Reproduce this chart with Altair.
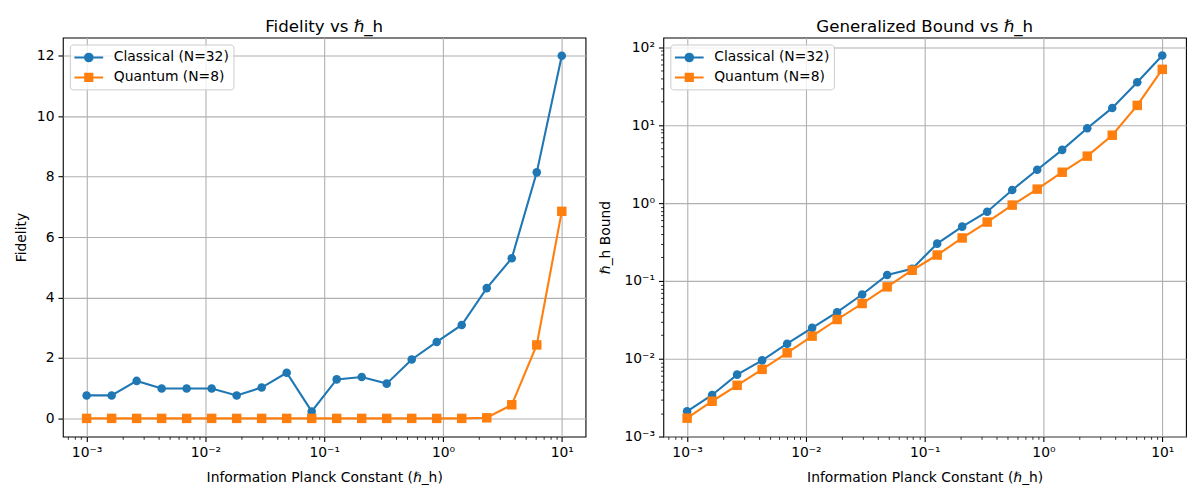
import altair as alt
import pandas as pd

SERIES = ["Classical (N=32)", "Quantum (N=8)"]
COLORS = ["#1f77b4", "#ff7f0e"]

# information planck constant (x), log spaced
h_vals = [0.001, 0.001624, 0.002637, 0.004281, 0.006952, 0.01129, 0.01833, 0.02976, 0.04833, 0.07848,
          0.1274, 0.2069, 0.3360, 0.5456, 0.8859, 1.438, 2.336, 3.793, 6.158, 10.0]

fid_classical = [0.76, 0.76, 1.24, 0.99, 0.99, 0.99, 0.76, 1.02, 1.51, 0.23,
                 1.29, 1.37, 1.15, 1.95, 2.53, 3.09, 4.31, 5.30, 8.14, 12.0]
fid_quantum = [0.0, 0.0, 0.0, 0.0, 0.0, 0.0, 0.0, 0.0, 0.0, 0.0,
               0.0, 0.0, 0.0, 0.0, 0.0, 0.0, 0.02, 0.45, 2.43, 6.85]

bound_classical = [0.00211, 0.00342, 0.00624, 0.00952, 0.0156, 0.0249, 0.0396, 0.0668, 0.119, 0.143,
                   0.301, 0.498, 0.775, 1.47, 2.68, 4.83, 9.16, 16.7, 35.6, 78.9]
bound_quantum = [0.00172, 0.00284, 0.00455, 0.00730, 0.0119, 0.0195, 0.0319, 0.0512, 0.0838, 0.137,
                 0.215, 0.356, 0.570, 0.942, 1.51, 2.49, 4.01, 7.45, 18.0, 52.3]

# tick positions / labels
log_majors = [0.001, 0.01, 0.1, 1.0, 10.0, 100.0]
log_labels = ["10\u207b\u00b3", "10\u207b\u00b2", "10\u207b\u00b9", "10\u2070", "10\u00b9", "10\u00b2"]
x_minors = [m * 10.0 ** e for e in range(-4, 2) for m in range(2, 10)]
x_minors = [v for v in x_minors if 10 ** -3.2 <= v <= 10 ** 1.2]
y_minors = [m * 10.0 ** e for e in range(-3, 3) for m in range(2, 10)]
y_minors = [v for v in y_minors if v <= 134]
fid_ticks = [0, 2, 4, 6, 8, 10, 12]

FONT = "DejaVu Sans"
FS = 13.9

rows = []
for i, h in enumerate(h_vals):
    rows.append({"h": h, "series": SERIES[0], "fid": fid_classical[i], "bound": bound_classical[i]})
    rows.append({"h": h, "series": SERIES[1], "fid": fid_quantum[i], "bound": bound_quantum[i]})
df = pd.DataFrame(rows)

major_test = " || ".join("datum.value == %r" % v for v in log_majors)
label_expr = "".join("datum.value == %r ? '%s' : " % (v, t) for v, t in zip(log_majors, log_labels)) + "''"

# legend handles: line through marker, like matplotlib
LEG_PATHS = [
    "M-1.8,0H1.8M0.48,0A0.48,0.48,0,1,1,-0.48,0A0.48,0.48,0,1,1,0.48,0Z",
    "M-1.8,0H1.8M-0.45,-0.45H0.45V0.45H-0.45Z",
]


def log_axis(minors, title_pad=None):
    kw = dict(
        values=sorted(log_majors + minors),
        labelExpr=label_expr,
        tickSize={"condition": {"test": major_test, "value": 4.9}, "value": 2.8},
        tickWidth={"condition": {"test": major_test, "value": 1.1}, "value": 0.8},
        gridOpacity={"condition": {"test": major_test, "value": 1}, "value": 0},
    )
    if title_pad is not None:
        kw["titlePadding"] = title_pad
    return alt.Axis(**kw)


def legend():
    return alt.Legend(
        orient="top-left", title=None, offset=7,
        labelFont=FONT, labelFontSize=FS, labelColor="black",
        symbolSize=256, symbolStrokeWidth=2, symbolOffset=6, labelOffset=16,
        padding=4, rowPadding=3,
        fillColor="rgba(255,255,255,0.8)", strokeColor="#cccccc", cornerRadius=3,
    )


def panel(ycol, title, ytitle, y_scale, y_axis):
    base = alt.Chart(df)
    x = alt.X("h:Q", title="Information Planck Constant (\u210f_h)",
              scale=alt.Scale(type="log", domain=[10 ** -3.2, 10 ** 1.2], nice=False),
              axis=log_axis(x_minors, title_pad=11))
    y = alt.Y(ycol + ":Q", title=ytitle, scale=y_scale, axis=y_axis)

    layers = []
    for name, c, shape, size in [(SERIES[0], COLORS[0], "circle", 74), (SERIES[1], COLORS[1], "square", 90)]:
        sub = base.transform_filter(alt.datum.series == name)
        layers.append(sub.mark_line(strokeWidth=2.1, color=c).encode(x=x, y=y))
        layers.append(sub.mark_point(filled=True, shape=shape, size=size, opacity=1, color=c).encode(x=x, y=y))

    # legend only layer (no rows survive the filter)
    legend_layer = base.transform_filter("false").mark_point(filled=True, opacity=1, strokeWidth=2).encode(
        x=x, y=y,
        fill=alt.Fill("series:N", scale=alt.Scale(domain=SERIES, range=COLORS), legend=legend()),
        stroke=alt.Stroke("series:N", scale=alt.Scale(domain=SERIES, range=COLORS), legend=legend()),
        shape=alt.Shape("series:N", scale=alt.Scale(domain=SERIES, range=LEG_PATHS), legend=legend()),
    )
    layers.append(legend_layer)

    return alt.layer(*layers).properties(
        width=524, height=400,
        title=alt.TitleParams(title, fontSize=16.7, fontWeight="normal", font=FONT, offset=2, color="black"),
    )


left = panel(
    "fid", "Fidelity vs \u210f_h", "Fidelity",
    alt.Scale(domain=[-0.6, 12.6], nice=False, zero=False),
    alt.Axis(values=fid_ticks, tickSize=4.9, tickWidth=1.1),
)
right = panel(
    "bound", "Generalized Bound vs \u210f_h", "\u210f_h Bound",
    alt.Scale(type="log", domain=[0.001, 134], nice=False),
    log_axis(y_minors, title_pad=11),
)

chart = alt.hconcat(left, right, spacing=11).resolve_scale(
    fill="independent", stroke="independent", shape="independent"
).properties(
    padding={"left": 5, "top": 9, "right": 5, "bottom": 5}
).configure(
    font=FONT
).configure_view(
    stroke="black", strokeWidth=1.1
).configure_axis(
    domain=False,
    grid=True,
    gridColor="#b0b0b0",
    gridWidth=1.1,
    tickColor="black",
    labelColor="black",
    labelFont=FONT,
    labelFontSize=FS,
    labelPadding=4,
    titleFont=FONT,
    titleFontSize=FS,
    titleFontWeight="normal",
    titleColor="black",
    titlePadding=8,
    labelFlush=False,
    labelOverlap=False,
)

chart.save("out.html", embed_options={"renderer": "svg", "actions": False})
